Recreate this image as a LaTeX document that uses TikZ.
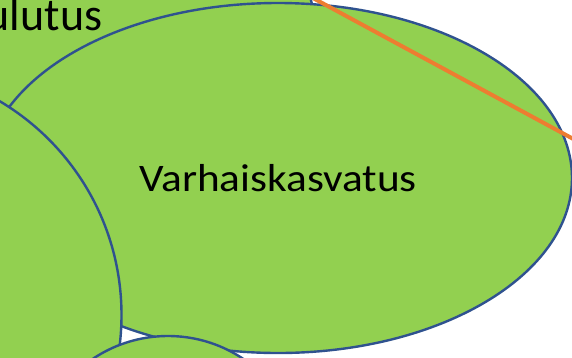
\documentclass[tikz,border=0pt]{standalone}
\usepackage{fontspec}
\setmainfont{Carlito}
\usetikzlibrary{shapes.geometric}
\definecolor{pGreen}{RGB}{146,208,80}
\definecolor{pBlue}{RGB}{47,82,143}
\definecolor{pOrange}{RGB}{237,125,49}

\begin{document}
\begin{tikzpicture}[x=1pt,y=-1pt,
    blob/.style={ellipse, fill=pGreen, draw=pBlue, line width=2.4pt, inner sep=0pt, text=black}]
    % Fix the frame
    \useasboundingbox (0,0) rectangle (572,357);
    \clip (0,0) rectangle (572,357);

    % Top left ellipse (cut by the frame)
    \node[blob, font=\fontsize{46}{48}\selectfont, minimum width=538pt, minimum height=240pt] (kou) at (44,15) {ulutus};
    % Main ellipse
    \node[blob, font=\fontsize{39}{42}\selectfont, minimum width=588pt, minimum height=350pt] (vaka) at (278,178) {\scalebox{1.11}[1]{Varhaiskasvatus}};
    % Left circle
    \node[blob, minimum width=497pt, minimum height=497pt] (left) at (-127,315) {};
    % Bottom ellipse
    \node[blob, minimum width=270pt, minimum height=270pt] (bottom) at (168,471) {};

    % Orange line across the top right
    \coordinate (o1) at (300,-9);
    \coordinate (o2) at (590,148);
    \draw[line width=4pt, pOrange] (o1) -- (o2);
\end{tikzpicture}
\end{document}
